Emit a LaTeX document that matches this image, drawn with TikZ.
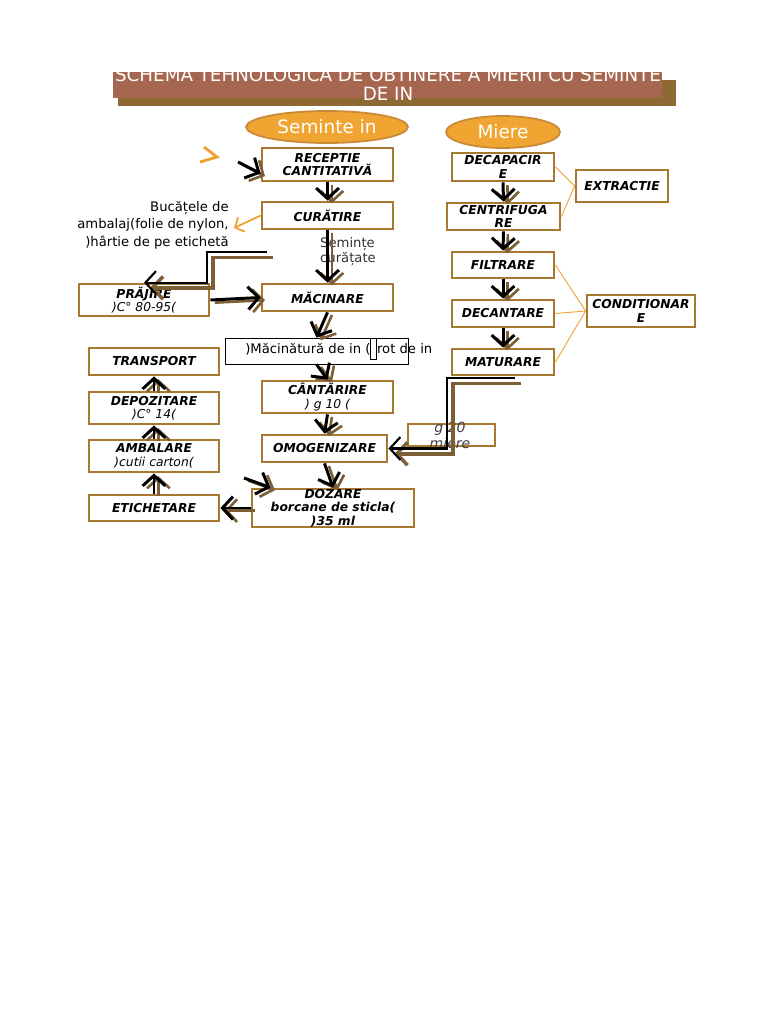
\documentclass[tikz,border=0pt]{standalone}
\usepackage{fontspec}
\setmainfont{DejaVu Sans}
\usetikzlibrary{arrows.meta,shapes.geometric}
\definecolor{boxbrown}{RGB}{168,120,48}
\definecolor{titlered}{RGB}{166,102,80}
\definecolor{ovalfill}{RGB}{240,165,50}
\definecolor{ovalline}{RGB}{200,138,58}
\definecolor{linkorange}{RGB}{240,160,48}
\definecolor{shadebrown}{RGB}{125,95,55}
\begin{document}
\begin{tikzpicture}[x=0.02cm,y=-0.02cm]
\tikzset{box/.style={draw=boxbrown,line width=1.6pt,fill=white,inner sep=0pt,align=center,font=\fontsize{7}{7.6}\selectfont\bfseries\itshape},
  oval/.style={ellipse,draw=ovalline,line width=1pt,fill=ovalfill,text=white,inner sep=0pt,font=\fontsize{10.5}{12}\selectfont},
  tip/.style={-{Straight Barb[length=6pt,width=13pt]}},
  flow/.style={line width=1.7pt,tip,preaction={draw=shadebrown,line width=1.5pt,tip,transform canvas={shift={(2.5pt,-1.5pt)}}}},
  flowtwo/.style={line width=1.2pt,tip,preaction={draw=shadebrown,line width=2pt,transform canvas={shift={(3.5pt,-3pt)}}}},
  link/.style={draw=linkorange,line width=0.5pt}}
\useasboundingbox (0,0) rectangle (768,1024);
\fill[shadebrown!60!boxbrown] (118,80) rectangle (676,106);
\fill[titlered] (113,72) rectangle (662,98);
\node[text=white,align=center,font=\fontsize{10.4}{10.5}\selectfont] (title) at (388,84) {SCHEMA TEHNOLOGICA DE OBTINERE A MIERII CU SEMINTE\\DE IN};
\node[oval,minimum width=3.24cm,minimum height=0.64cm] (sem) at (327,127) {Seminte in};
\node[oval,minimum width=2.28cm,minimum height=0.64cm] (mie) at (503,132) {Miere};
\node[box,minimum width=2.62cm,minimum height=0.66cm] (rec) at (327.5,164.5) {RECEPTIE\\CANTITATIVĂ};
\node[box,minimum width=2.62cm,minimum height=0.54cm] (cur) at (327.5,215.5) {CURĂTIRE};
\node[box,minimum width=2.62cm,minimum height=0.54cm] (mac) at (327.5,297.5) {MĂCINARE};
\node[box,minimum width=2.6cm,minimum height=0.64cm] (praj) at (144,300) {PRĂJIRE\\{\mdseries )C° 80-95(}};
\node[draw,line width=0.4pt,fill=white,minimum width=3.66cm,minimum height=0.52cm,inner sep=0pt] (macin) at (316.5,351) {};
\node[anchor=west,inner sep=0pt,font=\fontsize{7.5}{9}\selectfont] (macint) at (245,349) {)Măcinătură de in (\framebox[0.5em]{\rule{0pt}{1.3ex}}rot de in};
\node[box,minimum width=2.62cm,minimum height=0.64cm] (cant) at (327.5,397) {CÂNTĂRIRE\\{\mdseries ) g 10 (}};
\node[box,minimum width=2.5cm,minimum height=0.54cm] (omog) at (324.5,448.5) {OMOGENIZARE};
\node[box,minimum width=3.24cm,minimum height=0.76cm] (doz) at (333,508) {DOZARE\\borcane de sticla(\\)35 ml};
\node[box,minimum width=2.6cm,minimum height=0.54cm] (trans) at (154,361.5) {TRANSPORT};
\node[box,minimum width=2.6cm,minimum height=0.64cm] (depoz) at (154,408) {DEPOZITARE\\{\mdseries )C° 14(}};
\node[box,minimum width=2.6cm,minimum height=0.64cm] (amb) at (154,456) {AMBALARE\\{\mdseries )cutii carton(}};
\node[box,minimum width=2.6cm,minimum height=0.52cm] (etich) at (154,508) {ETICHETARE};
\node[box,minimum width=2.04cm,minimum height=0.56cm] (decap) at (503,167) {DECAPACIR\\E};
\node[box,minimum width=2.26cm,minimum height=0.54cm] (centr) at (503.5,216.5) {CENTRIFUGA\\RE};
\node[box,minimum width=2.04cm,minimum height=0.52cm] (filt) at (503,265) {FILTRARE};
\node[box,minimum width=2.04cm,minimum height=0.54cm] (decan) at (503,313.5) {DECANTARE};
\node[box,minimum width=2.04cm,minimum height=0.52cm] (matur) at (503,362) {MATURARE};
\node[box,minimum width=1.84cm,minimum height=0.64cm] (extr) at (622,186) {EXTRACTIE};
\node[box,minimum width=2.16cm,minimum height=0.64cm] (cond) at (641,311) {CONDITIONAR\\E};
\node[box,minimum width=1.74cm,minimum height=0.44cm] (gmiere) at (451.5,435) {};
\node[font=\fontsize{8}{9}\selectfont\itshape,text=black!75,align=center,inner sep=0pt] (gmieret) at (450,435) {g 20\\miere};
\node[anchor=east,align=right,inner sep=0pt,font=\fontsize{7.5}{10}\selectfont] (buc) at (229,225) {Bucățele de\\ambalaj(folie de nylon,\\)hârtie de pe etichetă};
\node[align=left,inner sep=0pt,font=\fontsize{7.5}{8.5}\selectfont,text=black!80] (seml) at (348,252) {Semințe\\curățate};
\coordinate (ina) at (238,162);
\coordinate (tap) at (267,252);
\coordinate (mtap) at (515,378);
\coordinate (indz) at (244,478);
\draw[flow] (ina) -- ([yshift=-0.18cm]rec.west);
\draw[linkorange,line width=1.6pt] (204,147) -- (217,157) -- (200,162);
\draw[flow] (rec.south) -- (cur.north);
\draw[link,line width=1pt,-{Straight Barb[length=4pt,width=9pt]}] (cur.west) -- ([xshift=0.1cm,yshift=-0.06cm]buc.east);
\draw[flow] (cur.south) -- (mac.north);
\draw[flowtwo] (tap) -- (207,252) |- (praj.north);
\draw[flow] (praj.east) -- (mac.west);
\draw[flow] (mac.south) -- (macin.north);
\draw[flow] (macin.south) -- (cant.north);
\draw[flow] (cant.south) -- (omog.north);
\draw[flow] (omog.south) -- (doz.north);
\draw[flow] (indz) -- ([xshift=0.4cm]doz.north west);
\draw[flow] (doz.west) -- (etich.east);
\draw[flow] (etich.north) -- (amb.south);
\draw[flow] (amb.north) -- (depoz.south);
\draw[flow] (depoz.north) -- (trans.south);
\draw[flow] (decap.south) -- (centr.north);
\draw[flow] (centr.south) -- (filt.north);
\draw[flow] (filt.south) -- (decan.north);
\draw[flow] (decan.south) -- (matur.north);
\draw[flowtwo] (mtap) -- (447,378) |- (omog.east);
\draw[link] (decap.east) -- (extr.west);
\draw[link] (centr.east) -- (extr.west);
\draw[link] (filt.east) -- (cond.west);
\draw[link] (decan.east) -- (cond.west);
\draw[link] (matur.east) -- (cond.west);
\end{tikzpicture}
\end{document}
